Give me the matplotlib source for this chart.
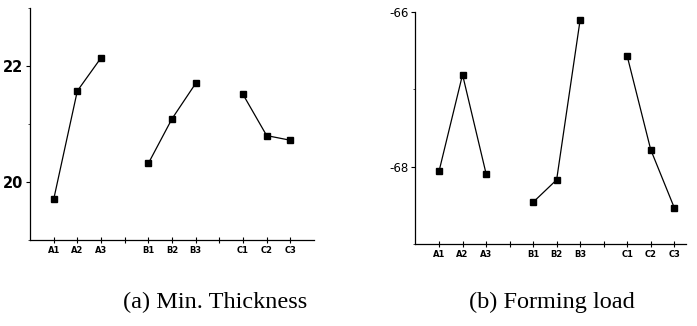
import matplotlib
matplotlib.use("Agg")
import matplotlib.pyplot as plt
from matplotlib.ticker import MultipleLocator

plt.rcParams["axes.unicode_minus"] = False

groups = [["A1", "A2", "A3"], ["B1", "B2", "B3"], ["C1", "C2", "C3"]]
tick_labels = ["A1", "A2", "A3", "", "B1", "B2", "B3", "", "C1", "C2", "C3"]

thickness = [[19.70, 21.57, 22.14], [20.32, 21.09, 21.70], [21.51, 20.80, 20.72]]
load = [[-68.06, -66.81, -68.09], [-68.46, -68.17, -66.10], [-66.57, -67.78, -68.53]]

captions = ["(a) Min. Thickness", "(b) Forming load"]

fig = plt.figure(figsize=(6.97, 3.26), dpi=100)
ax1 = fig.add_axes([30/697, 1-240/326, 284/697, 232/326])
ax2 = fig.add_axes([415.5/697, 1-244/326, 270.5/697, 232/326])

def draw(ax, data, ylim, major, ylabsize, ylabweight, xlim_right, caption, cx):
    for gi, vals in enumerate(data):
        xs = [gi*4 + 1 + i for i in range(len(vals))]
        ax.plot(xs, vals, color="black", lw=0.9, marker="s", ms=4,
                markerfacecolor="black", markeredgecolor="black")
    ax.set_xlim(0, xlim_right)
    ax.set_ylim(*ylim)
    ax.set_xticks(range(1, 12))
    ax.set_xticklabels(tick_labels, fontsize=6, fontweight="bold", family="DejaVu Sans")
    ax.set_yticks(major)
    ax.yaxis.set_minor_locator(MultipleLocator(1))
    for lab in ax.get_yticklabels():
        lab.set_fontsize(ylabsize)
        lab.set_fontweight(ylabweight)
    ax.spines["top"].set_visible(False)
    ax.spines["right"].set_visible(False)
    for s in ("left", "bottom"):
        ax.spines[s].set_linewidth(0.9)
    ax.tick_params(axis="x", direction="inout", length=5, width=0.8, pad=2)
    ax.tick_params(axis="y", which="major", direction="out", length=3, width=0.8, pad=2)
    ax.tick_params(axis="y", which="minor", direction="out", length=1.5, width=0.5)
    fig.text(cx, 1-302/326, caption, family="Liberation Serif", fontsize=17.5,
             ha="center", va="center")

draw(ax1, thickness, (19, 23), [20, 22], 10.5, "bold", 12, captions[0], 215/697)
draw(ax2, load, (-69, -66), [-68, -66], 8.5, "normal", 11.5, captions[1], 552/697)

fig.savefig("out.png", dpi=100, facecolor="white")
